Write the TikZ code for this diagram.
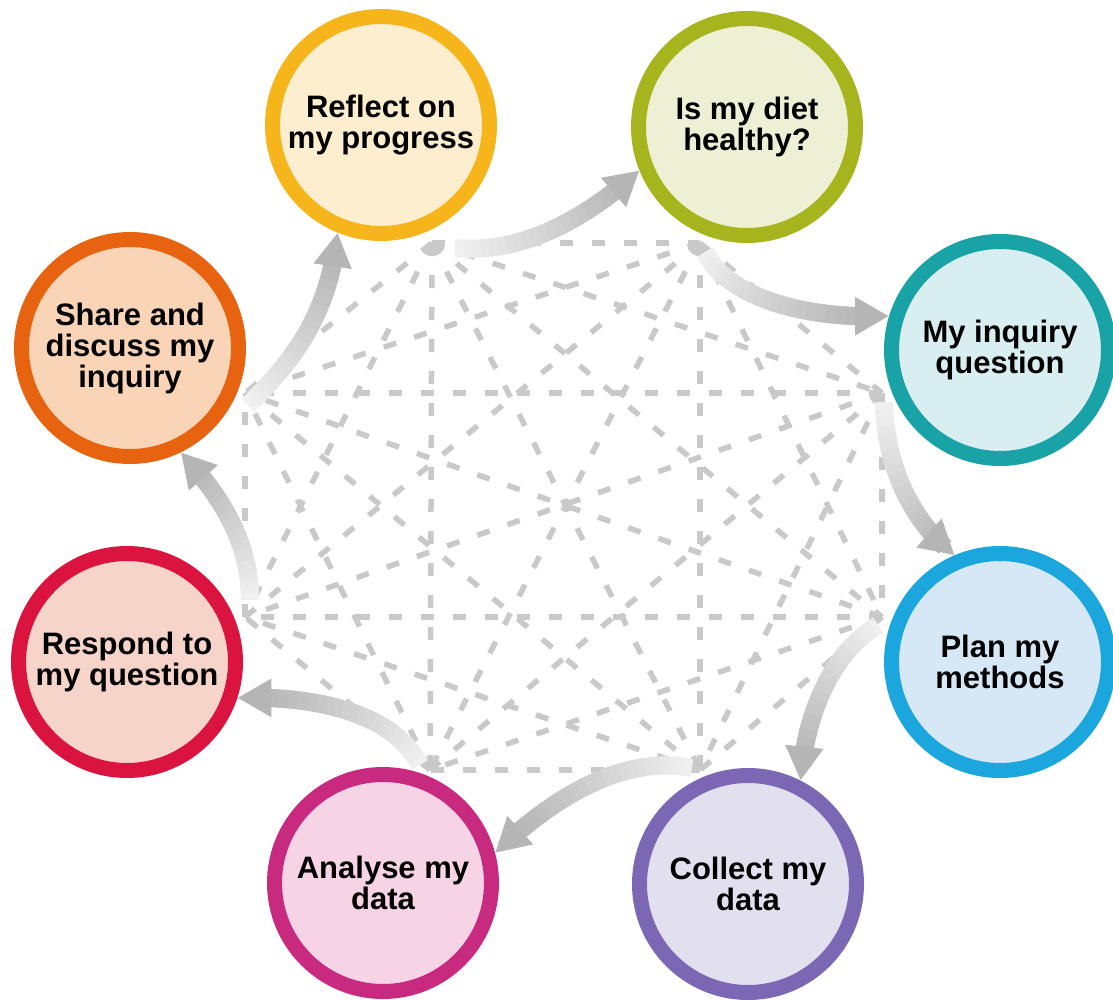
\documentclass[tikz,border=0pt]{standalone}
\usepackage{fontspec}
\setmainfont{Liberation Sans}
\usetikzlibrary{arrows.meta}
\definecolor{ringReflect}{HTML}{F5B51B}
\definecolor{fillReflect}{HTML}{FDEED0}
\definecolor{ringDiet}{HTML}{A6B51E}
\definecolor{fillDiet}{HTML}{EEF0D6}
\definecolor{ringInquiry}{HTML}{19A3A6}
\definecolor{fillInquiry}{HTML}{D9EEF0}
\definecolor{ringPlan}{HTML}{1BA6DE}
\definecolor{fillPlan}{HTML}{D6E8F5}
\definecolor{ringCollect}{HTML}{7B67B3}
\definecolor{fillCollect}{HTML}{E2E0EE}
\definecolor{ringAnalyse}{HTML}{C82A80}
\definecolor{fillAnalyse}{HTML}{F6D4E6}
\definecolor{ringRespond}{HTML}{DB143F}
\definecolor{fillRespond}{HTML}{F7D4CA}
\definecolor{ringShare}{HTML}{E8630F}
\definecolor{fillShare}{HTML}{F9D4B6}
\definecolor{dashgray}{HTML}{C9C9C9}

\tikzset{
  stage/.style={circle, minimum size=217pt, inner sep=0pt, line width=15pt,
    align=center, font=\fontsize{31}{31}\selectfont\bfseries},
  web/.style={draw=dashgray, line width=5.5pt, dash pattern=on 13pt off 19pt},
  flowseg/.style={line width=18pt},
  flowtip/.style={line width=18pt, draw=gray!58, -{Triangle[width=36pt,length=34pt]}},
}

\newcommand{\gradarrow}[4]{%
  \foreach \k in {0,...,24}{%
    \pgfmathsetmacro{\tpos}{\k/24}%
    \path (#1) .. controls (#2) and (#3) .. (#4) coordinate[pos=\tpos] (gp\k);}
  \foreach \k in {0,...,20}{%
    \pgfmathtruncatemacro{\kk}{\k+2}%
    \pgfmathtruncatemacro{\tone}{12+2.2*\k}%
    \draw[flowseg, draw=gray!\tone] (gp\k) -- (gp\kk);}
  \draw[flowtip] (gp21) -- (#4);
}

\begin{document}
\begin{tikzpicture}[x=1pt,y=-1pt]
\useasboundingbox (0,0) rectangle (1113,1000);
\fill[white] (0,0) rectangle (1113,1000);

% octagon vertices
\coordinate (v1) at (432,243);
\coordinate (v2) at (700,243);
\coordinate (v3) at (882,393);
\coordinate (v4) at (882,617);
\coordinate (v5) at (700,770);
\coordinate (v6) at (430,770);
\coordinate (v7) at (245,617);
\coordinate (v8) at (245,393);

\foreach \a in {1,...,7}{%
  \pgfmathtruncatemacro{\bstart}{\a+1}%
  \foreach \b in {\bstart,...,8}{\draw[web] (v\a) -- (v\b);}}

% stages
\node[stage, draw=ringReflect, fill=fillReflect] (reflect) at (381,125) {Reflect on\\my progress};
\node[stage, draw=ringDiet, fill=fillDiet] (diet) at (747,127) {Is my diet\\healthy?};
\node[stage, draw=ringInquiry, fill=fillInquiry] (inquiry) at (1000,350) {My inquiry\\question};
\node[stage, draw=ringPlan, fill=fillPlan] (plan) at (1000,662) {Plan my\\methods};
\node[stage, draw=ringCollect, fill=fillCollect] (collect) at (748,884) {Collect my\\data};
\node[stage, draw=ringAnalyse, fill=fillAnalyse] (analyse) at (383,883) {Analyse my\\data};
\node[stage, draw=ringRespond, fill=fillRespond] (respond) at (127,662) {Respond to\\my question};
\node[stage, draw=ringShare, fill=fillShare] (share) at (130,348) {Share and\\discuss my\\inquiry};

% arrow starts
\coordinate (s1) at (455,248);
\coordinate (s2) at (705,252);
\coordinate (s3) at (884,402);
\coordinate (s4) at (878,625);
\coordinate (s5) at (692,768);
\coordinate (s6) at (420,765);
\coordinate (s7) at (250,600);
\coordinate (s8) at (248,405);

\gradarrow{s1}{525,255}{590,215}{diet.-158}
\gradarrow{s2}{725,295}{800,320}{inquiry.163}
\gradarrow{s3}{885,470}{915,525}{plan.113}
\gradarrow{s4}{835,650}{805,710}{collect.63}
\gradarrow{s5}{630,755}{560,790}{analyse.15}
\gradarrow{s6}{395,715}{320,695}{respond.-18}
\gradarrow{s7}{250,545}{225,500}{share.-64}
\gradarrow{s8}{290,365}{330,315}{reflect.-112}
\end{tikzpicture}
\end{document}
